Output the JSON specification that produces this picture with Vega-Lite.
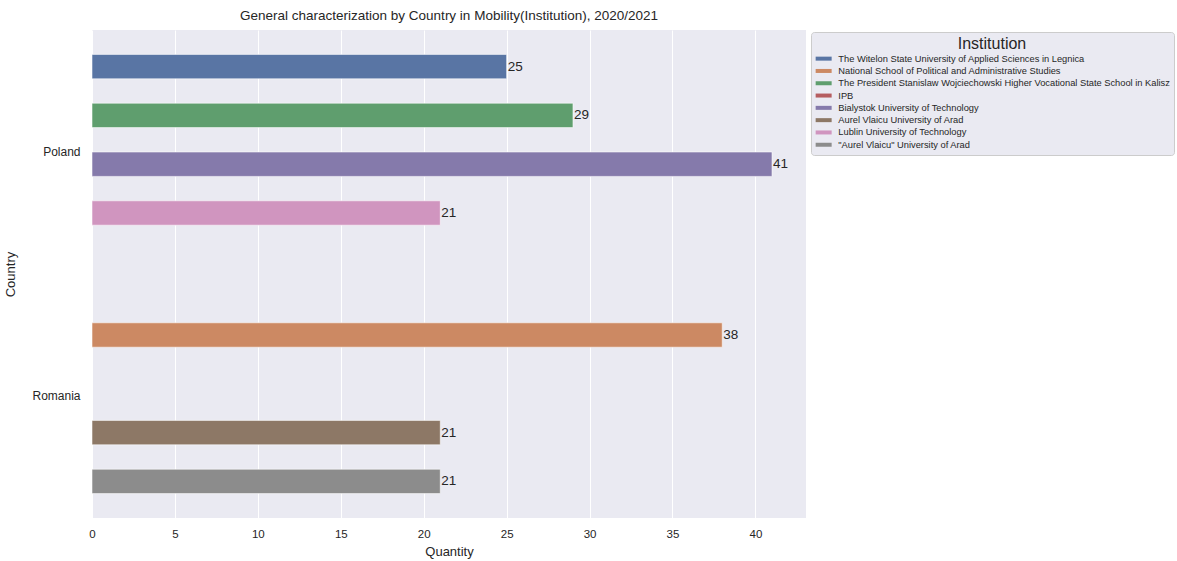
{
  "$schema": "https://vega.github.io/schema/vega-lite/v6.json",
  "width": 714,
  "height": 488,
  "autosize": {"type": "none"},
  "padding": {"left": 92, "top": 30, "right": 371, "bottom": 43},
  "background": "white",
  "title": {
    "text": "General characterization by Country in Mobility(Institution), 2020/2021",
    "fontSize": 13.5,
    "fontWeight": "normal",
    "font": "Liberation Sans",
    "color": "#262626",
    "offset": 8,
    "anchor": "middle"
  },
  "config": {
    "font": "Liberation Sans",
    "view": {"fill": "#EAEAF2", "stroke": null},
    "axis": {
      "labelColor": "#262626",
      "titleColor": "#262626",
      "labelFont": "Liberation Sans",
      "titleFont": "Liberation Sans",
      "titleFontWeight": "normal",
      "domain": false,
      "ticks": false
    }
  },
  "data": {
    "values": [
      {"Country": "Poland", "Institution": "The Witelon State University of Applied Sciences in Legnica", "Quantity": 25},
      {"Country": "Poland", "Institution": "The President Stanislaw Wojciechowski Higher Vocational State School in Kalisz", "Quantity": 29},
      {"Country": "Poland", "Institution": "Bialystok University of Technology", "Quantity": 41},
      {"Country": "Poland", "Institution": "Lublin University of Technology", "Quantity": 21},
      {"Country": "Romania", "Institution": "National School of Political and Administrative Studies", "Quantity": 38},
      {"Country": "Romania", "Institution": "Aurel Vlaicu University of Arad", "Quantity": 21},
      {"Country": "Romania", "Institution": "\"Aurel Vlaicu\" University of Arad", "Quantity": 21}
    ]
  },
  "encoding": {
    "y": {
      "field": "Country",
      "type": "nominal",
      "sort": ["Poland", "Romania"],
      "scale": {"paddingInner": 0.2, "paddingOuter": 0.1},
      "axis": {
        "title": "Country",
        "labelFontSize": 12,
        "titleFontSize": 13,
        "labelPadding": 12,
        "titlePadding": 14,
        "grid": false,
        "labelAngle": 0
      }
    },
    "yOffset": {
      "field": "Institution",
      "type": "nominal",
      "sort": [
        "The Witelon State University of Applied Sciences in Legnica",
        "National School of Political and Administrative Studies",
        "The President Stanislaw Wojciechowski Higher Vocational State School in Kalisz",
        "IPB",
        "Bialystok University of Technology",
        "Aurel Vlaicu University of Arad",
        "Lublin University of Technology",
        "\"Aurel Vlaicu\" University of Arad"
      ],
      "scale": {
        "domain": [
          "The Witelon State University of Applied Sciences in Legnica",
          "National School of Political and Administrative Studies",
          "The President Stanislaw Wojciechowski Higher Vocational State School in Kalisz",
          "IPB",
          "Bialystok University of Technology",
          "Aurel Vlaicu University of Arad",
          "Lublin University of Technology",
          "\"Aurel Vlaicu\" University of Arad"
        ],
        "paddingInner": 0,
        "paddingOuter": 0
      }
    },
    "x": {
      "field": "Quantity",
      "type": "quantitative",
      "scale": {"domain": [0, 43.05], "nice": false, "zero": true},
      "axis": {
        "title": "Quantity",
        "values": [0, 5, 10, 15, 20, 25, 30, 35, 40],
        "labelFontSize": 11.5,
        "labelFlush": false,
        "titleFontSize": 13,
        "labelPadding": 10,
        "titlePadding": 6,
        "grid": true,
        "gridColor": "white",
        "gridWidth": 1
      }
    }
  },
  "layer": [
    {
      "mark": {"type": "bar", "stroke": "white", "strokeWidth": 0.8, "strokeOpacity": 0.7},
      "encoding": {
        "color": {
          "field": "Institution",
          "type": "nominal",
          "scale": {
            "domain": [
              "The Witelon State University of Applied Sciences in Legnica",
              "National School of Political and Administrative Studies",
              "The President Stanislaw Wojciechowski Higher Vocational State School in Kalisz",
              "IPB",
              "Bialystok University of Technology",
              "Aurel Vlaicu University of Arad",
              "Lublin University of Technology",
              "\"Aurel Vlaicu\" University of Arad"
            ],
            "range": ["#5975A4", "#CC8963", "#5F9E6E", "#B55D60", "#857AAB", "#8D7866", "#D095BF", "#8C8C8C"]
          },
          "legend": {
            "orient": "none",
            "legendX": 719,
            "legendY": 2,
            "title": "Institution",
            "titleFontSize": 16,
            "titleFontWeight": "normal",
            "titleColor": "#262626",
            "titleAnchor": "middle",
            "titleAlign": "center",
            "titlePadding": 2,
            "labelFontSize": 9.3,
            "labelColor": "#262626",
            "labelLimit": 400,
            "symbolType": "M-1,-0.5H3V0.5H-1Z",
            "symbolSize": 64,
            "symbolStrokeWidth": 0,
            "symbolOpacity": 1,
            "rowPadding": 2.3,
            "labelOffset": 14,
            "padding": 4,
            "fillColor": "#EAEAF2",
            "strokeColor": "#CCCCCC",
            "cornerRadius": 3
          }
        }
      }
    },
    {
      "mark": {"type": "text", "align": "left", "baseline": "middle", "dx": 1, "fontSize": 13.5, "color": "#262626"},
      "encoding": {
        "text": {"field": "Quantity", "type": "quantitative"}
      }
    }
  ]
}
